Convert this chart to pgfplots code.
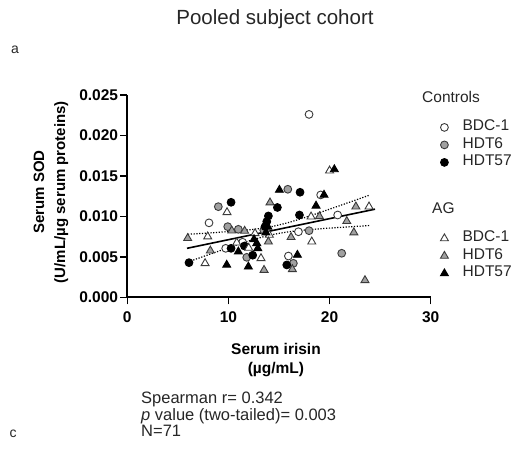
\documentclass[border=0pt]{standalone}
\usepackage{pgfplots}
\pgfplotsset{compat=1.18}
\usepackage{fontspec}
\setmainfont{Liberation Sans}

\definecolor{txt}{HTML}{262626}
\definecolor{markgray}{HTML}{A0A0A0}
\definecolor{edgegray}{HTML}{3A3A3A}

\newcommand{\lgfont}{\fontsize{15.5bp}{18bp}\selectfont}
\newcommand{\tkfont}{\fontsize{15.5bp}{18bp}\selectfont\bfseries}

% Controls (circles) and AG (triangles), one per visit
\pgfplotstableread{
x y
17.97 0.0226
8.08 0.0092
9.73 0.00605
15.93 0.0051
16.92 0.0081
19.12 0.01265
20.80 0.01017
11.40 0.0068
}\ctrlBDC
\pgfplotstableread{
x y
9.00 0.0112
9.93 0.00873
10.98 0.0084
15.87 0.01335
17.97 0.00823
21.20 0.00544
11.81 0.00494
16.42 0.0042
13.50 0.0083
}\ctrlHDTsix
\pgfplotstableread{
x y
6.10 0.00428
10.26 0.01174
10.26 0.00605
11.58 0.00634
13.95 0.01005
13.79 0.00935
13.62 0.00873
14.84 0.0111
17.08 0.01298
17.02 0.01017
15.77 0.0040
12.40 0.0052
}\ctrlHDTfs
\pgfplotstableread{
x y
9.86 0.0105
7.95 0.0075
7.69 0.0042
10.82 0.00675
12.63 0.0079
14.05 0.0077
13.22 0.00482
18.17 0.00996
18.24 0.00687
20.00 0.01565
23.90 0.0112
12.00 0.0061
}\agBDC
\pgfplotstableread{
x y
5.97 0.0073
8.21 0.00576
10.33 0.00823
14.11 0.0117
13.95 0.00687
13.52 0.00337
16.19 0.00742
16.32 0.00346
19.00 0.0100
22.60 0.0112
21.70 0.0094
22.40 0.0080
23.50 0.0021
11.60 0.0082
}\agHDTsix
\pgfplotstableread{
x y
9.83 0.0040
10.98 0.00564
11.97 0.00378
12.53 0.00717
12.80 0.00667
12.90 0.00605
13.90 0.0087
15.04 0.01326
16.82 0.00523
18.66 0.0113
19.45 0.01265
20.47 0.0158
13.70 0.0080
}\agHDTfs

\pgfplotsset{
  frame/.style={
    at={(127.3bp,156.7bp)}, anchor=south west,
    scale only axis, width=303.4bp, height=202.3bp,
    xmin=0, xmax=30, ymin=0, ymax=0.025, clip=false,
  },
  grouplegend/.style={
    legend style={draw=none, fill=none, inner sep=0pt, anchor=north west,
      font=\lgfont\color{txt}, row sep=0pt,
      nodes={inner sep=1bp, text height=11bp, text depth=4.5bp}},
    legend cell align=left,
    legend image code/.code={\draw[##1] plot coordinates {(0bp,0bp)}; \path (-8bp,0bp) (17bp,0bp);},
  },
  openC/.style={only marks, mark=*, mark size=3.9bp, mark options={fill=white, draw=edgegray, line width=0.9bp}},
  grayC/.style={only marks, mark=*, mark size=3.9bp, mark options={fill=markgray, draw=edgegray, line width=0.9bp}},
  blackC/.style={only marks, mark=*, mark size=3.9bp, mark options={fill=black, draw=black, line width=0.9bp}},
  openT/.style={only marks, mark=triangle*, mark size=4.6bp, mark options={fill=white, draw=edgegray, line width=0.9bp}},
  grayT/.style={only marks, mark=triangle*, mark size=4.6bp, mark options={fill=markgray, draw=edgegray, line width=0.9bp}},
  blackT/.style={only marks, mark=triangle*, mark size=4.6bp, mark options={fill=black, draw=black, line width=0.9bp}},
}

\begin{document}
\begin{tikzpicture}[x=1bp, y=1bp]
\path[use as bounding box] (0,0) rectangle (515,454);

\begin{axis}[
  frame, grouplegend,
  legend style={at={(1.0175,0.884)}},
  axis x line*=bottom, axis y line*=left,
  axis line style={-, line width=1.7bp, black},
  tick align=outside, major tick length=7bp,
  tick style={line width=1.4bp, black},
  xtick={0,10,20,30}, xticklabels={0,10,20,30},
  ytick={0,0.005,0.010,0.015,0.020,0.025},
  yticklabels={0.000,0.005,0.010,0.015,0.020,0.025},
  scaled y ticks=false,
  ticklabel style={font=\tkfont, text=black},
  yticklabel style={inner sep=2bp},
  xticklabel style={inner sep=2bp, yshift=-5bp},
  xlabel={Serum irisin\\(µg/mL)},
  xlabel style={at={(axis description cs:0.49,-0.31)}, anchor=center,
    align=center, font=\fontsize{15.5bp}{19bp}\selectfont\bfseries},
  ylabel={Serum SOD\\(U/mL/µg serum proteins)},
  ylabel style={at={(axis description cs:-0.2515,0.52)}, anchor=center,
    align=center, font=\fontsize{15bp}{21bp}\selectfont\bfseries},
]
% linear fit and its 95% confidence band
\addplot[forget plot, black, line width=1.6bp] coordinates {(5.9,0.006052) (24.5,0.010888)};
\addplot[forget plot, black, dash pattern=on 1.2bp off 1.6bp, line width=1.2bp, smooth] coordinates {
 (6,0.00779) (8,0.00794) (10,0.00812) (12,0.00833) (14,0.00867) (16,0.00926)
 (18,0.01004) (20,0.01089) (22,0.01176) (24,0.01265)};
\addplot[forget plot, black, dash pattern=on 1.2bp off 1.6bp, line width=1.2bp, smooth] coordinates {
 (6,0.00437) (8,0.00525) (10,0.00612) (12,0.00695) (14,0.00765) (16,0.00810)
 (18,0.00836) (20,0.00855) (22,0.00871) (24,0.00887)};

\addplot[openC]  table {\ctrlBDC};    \addlegendentry{BDC-1}
\addplot[grayC]  table {\ctrlHDTsix}; \addlegendentry{HDT6}
\addplot[blackC] table {\ctrlHDTfs};  \addlegendentry{HDT57}
\end{axis}

\begin{axis}[
  frame, grouplegend, hide axis,
  legend style={at={(1.0175,0.335)}},
]
\addplot[openT]  table {\agBDC};    \addlegendentry{BDC-1}
\addplot[grayT]  table {\agHDTsix}; \addlegendentry{HDT6}
\addplot[blackT] table {\agHDTfs};  \addlegendentry{HDT57}
\end{axis}

% group headings, title, panel letters and statistics
\node[anchor=west, font=\lgfont, text=txt, inner sep=0pt] at (422,357) {Controls};
\node[anchor=west, font=\lgfont, text=txt, inner sep=0pt] at (432,246) {AG};
\node[font=\fontsize{20.5bp}{24bp}\selectfont, text=txt] at (275,435) {Pooled subject cohort};
\node[font=\fontsize{14bp}{16bp}\selectfont, text=txt] at (15,404) {a};
\node[font=\fontsize{14bp}{16bp}\selectfont, text=txt] at (13,20) {c};
\node[anchor=base west, font=\fontsize{16.5bp}{18bp}\selectfont, text=txt, inner sep=0pt] at (141,50.5) {Spearman r= 0.342};
\node[anchor=base west, font=\fontsize{16.5bp}{18bp}\selectfont, text=txt, inner sep=0pt] at (141,33.5) {\textit{p} value (two-tailed)= 0.003};
\node[anchor=base west, font=\fontsize{16.5bp}{18bp}\selectfont, text=txt, inner sep=0pt] at (141,17.5) {N=71};
\end{tikzpicture}
\end{document}
